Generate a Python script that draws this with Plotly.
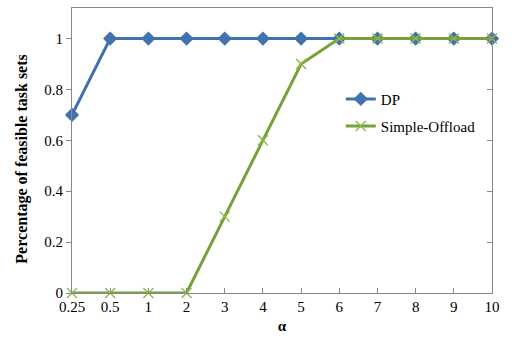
import plotly.graph_objects as go

alpha = ["0.25", "0.5", "1", "2", "3", "4", "5", "6", "7", "8", "9", "10"]
dp = [0.7, 1, 1, 1, 1, 1, 1, 1, 1, 1, 1, 1]
simple_offload = [0, 0, 0, 0, 0.3, 0.6, 0.9, 1, 1, 1, 1, 1]

blue = "#4272AE"
green = "#77A23B"
green_m = "#8DB84A"
font = "Liberation Serif"

fig = go.Figure()
fig.add_trace(go.Scatter(
    x=alpha, y=dp, name="DP", mode="lines+markers",
    line=dict(color=blue, width=3),
    marker=dict(symbol="diamond", size=11, color=blue),
    legend="legend", cliponaxis=False))
fig.add_trace(go.Scatter(
    x=alpha, y=simple_offload, name="Simple-Offload", mode="lines+markers",
    line=dict(color=green, width=3),
    marker=dict(symbol="x-thin", size=10, line=dict(color=green_m, width=1.3)),
    legend="legend2", cliponaxis=False))
# helper trace for right-side inward ticks
fig.add_trace(go.Scatter(x=[alpha[0]], y=[0], yaxis="y2", mode="markers",
                         marker=dict(opacity=0), showlegend=False, hoverinfo="skip"))

fig.update_layout(
    width=512, height=339,
    margin=dict(l=72, r=20, t=7, b=45),
    paper_bgcolor="white", plot_bgcolor="white",
    font=dict(family=font, size=15, color="#000"),
    showlegend=True,
    legend=dict(x=0.64, y=0.68, xanchor="left", yanchor="middle",
                bgcolor="rgba(0,0,0,0)", font=dict(size=15)),
    legend2=dict(x=0.64, y=0.585, xanchor="left", yanchor="middle",
                 bgcolor="rgba(0,0,0,0)", font=dict(size=15)),
    xaxis=dict(type="category", range=[0, 11], showgrid=False,
               showline=True, linecolor="#888", linewidth=1, mirror=True,
               ticks="inside", ticklen=5, tickcolor="#888",
               title=dict(text="<b>α</b>", standoff=6, font=dict(size=15)),
               tickfont=dict(size=15)),
    yaxis=dict(range=[0, 1.12], showgrid=False, zeroline=False,
               showline=True, linecolor="#888", linewidth=1, mirror=True,
               ticks="outside", ticklen=5, tickcolor="#888",
               tickvals=[0, 0.2, 0.4, 0.6, 0.8, 1],
               ticktext=["0", "0.2", "0.4", "0.6", "0.8", "1"],
               tickfont=dict(size=15)),
    yaxis2=dict(range=[0, 1.12], overlaying="y", side="right", showgrid=False,
                zeroline=False, showline=False, ticks="inside", ticklen=5,
                tickcolor="#888", tickvals=[0.2, 0.4, 0.6, 0.8, 1],
                showticklabels=False),
)
fig.add_annotation(text="<b>Percentage of feasible task sets</b>", textangle=-90,
                   xref="paper", yref="paper", x=-0.12, y=0.47,
                   xanchor="center", yanchor="middle", showarrow=False,
                   font=dict(size=16, family=font, color="#000"))
fig.write_html("out.html")
